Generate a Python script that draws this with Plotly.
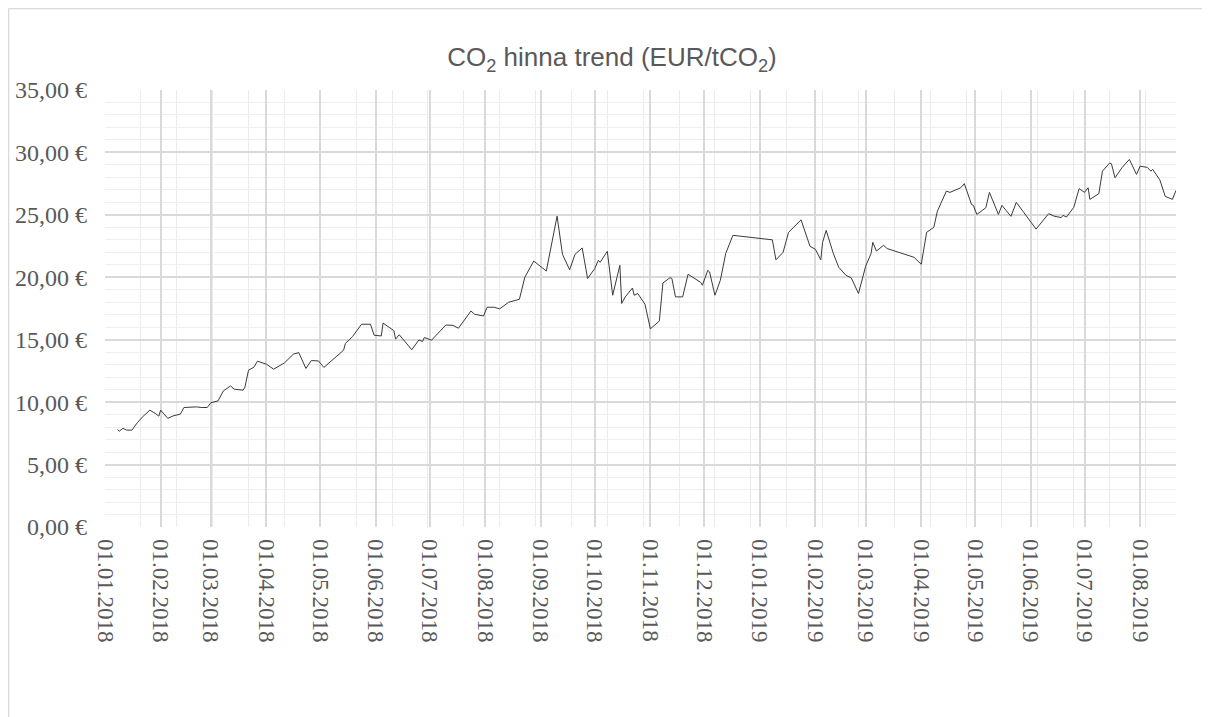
import plotly.graph_objects as go

# CO2 price (EUR/tCO2)
dates = [
    "2018-01-08", "2018-01-09", "2018-01-11", "2018-01-13", "2018-01-16", "2018-01-19",
    "2018-01-22", "2018-01-26", "2018-01-29", "2018-01-31", "2018-02-01", "2018-02-03",
    "2018-02-05", "2018-02-08", "2018-02-12", "2018-02-14", "2018-02-17", "2018-02-21",
    "2018-02-24", "2018-02-27", "2018-03-01", "2018-03-05", "2018-03-08", "2018-03-12",
    "2018-03-14", "2018-03-19", "2018-03-20", "2018-03-22", "2018-03-25", "2018-03-27",
    "2018-04-01", "2018-04-05", "2018-04-11", "2018-04-16", "2018-04-19", "2018-04-23",
    "2018-04-26", "2018-04-30", "2018-05-03", "2018-05-10", "2018-05-14", "2018-05-15",
    "2018-05-19", "2018-05-24", "2018-05-29", "2018-05-31", "2018-06-04", "2018-06-05",
    "2018-06-11", "2018-06-12", "2018-06-14", "2018-06-21", "2018-06-25", "2018-06-27",
    "2018-06-28", "2018-07-02", "2018-07-10", "2018-07-14", "2018-07-17", "2018-07-24",
    "2018-07-26", "2018-07-31", "2018-08-02", "2018-08-06", "2018-08-09", "2018-08-14",
    "2018-08-20", "2018-08-23", "2018-08-28", "2018-09-04", "2018-09-10", "2018-09-13",
    "2018-09-17", "2018-09-20", "2018-09-24", "2018-09-27", "2018-10-01", "2018-10-03",
    "2018-10-04", "2018-10-08", "2018-10-11", "2018-10-15", "2018-10-16", "2018-10-18",
    "2018-10-22", "2018-10-23", "2018-10-25", "2018-10-29", "2018-11-01", "2018-11-06",
    "2018-11-08", "2018-11-12", "2018-11-13", "2018-11-15", "2018-11-19", "2018-11-22",
    "2018-11-29", "2018-11-30", "2018-12-03", "2018-12-04", "2018-12-07", "2018-12-10",
    "2018-12-13", "2018-12-17", "2019-01-08", "2019-01-10", "2019-01-14", "2019-01-17",
    "2019-01-24", "2019-01-29", "2019-02-01", "2019-02-04", "2019-02-05", "2019-02-07",
    "2019-02-11", "2019-02-14", "2019-02-18", "2019-02-21", "2019-02-25", "2019-03-01",
    "2019-03-04", "2019-03-05", "2019-03-07", "2019-03-11", "2019-03-13", "2019-03-28",
    "2019-04-01", "2019-04-04", "2019-04-08", "2019-04-10", "2019-04-15", "2019-04-17",
    "2019-04-23", "2019-04-25", "2019-04-29", "2019-04-30", "2019-05-02", "2019-05-07",
    "2019-05-09", "2019-05-14", "2019-05-16", "2019-05-21", "2019-05-24", "2019-05-28",
    "2019-06-04", "2019-06-11", "2019-06-14", "2019-06-18", "2019-06-19", "2019-06-21",
    "2019-06-25", "2019-06-28", "2019-07-01", "2019-07-03", "2019-07-04", "2019-07-09",
    "2019-07-11", "2019-07-15", "2019-07-16", "2019-07-18", "2019-07-22", "2019-07-26",
    "2019-07-30", "2019-08-01", "2019-08-05", "2019-08-07", "2019-08-08", "2019-08-12",
    "2019-08-15", "2019-08-19", "2019-08-21",
]
prices = [
    7.80, 7.68, 7.90, 7.76, 7.76, 8.35,
    8.83, 9.36, 9.10, 8.88, 9.36, 9.00,
    8.70, 8.90, 9.04, 9.57, 9.60, 9.62,
    9.57, 9.57, 9.95, 10.10, 10.90, 11.30,
    11.04, 10.96, 11.20, 12.56, 12.80, 13.28,
    13.04, 12.64, 13.14, 13.84, 13.97, 12.70,
    13.33, 13.30, 12.78, 13.62, 14.16, 14.70,
    15.25, 16.24, 16.24, 15.36, 15.30, 16.33,
    15.73, 15.05, 15.40, 14.20, 14.98, 14.85,
    15.18, 14.96, 16.18, 16.15, 15.92, 17.30,
    17.04, 16.90, 17.60, 17.60, 17.47, 18.00,
    18.24, 20.00, 21.30, 20.50, 24.90, 21.84,
    20.60, 21.84, 22.35, 19.90, 20.70, 21.36,
    21.20, 22.08, 18.56, 20.96, 17.90, 18.43,
    19.14, 18.56, 18.70, 17.84, 15.87, 16.50,
    19.54, 19.97, 19.90, 18.43, 18.43, 20.24,
    19.60, 19.36, 20.56, 20.43, 18.56, 19.76,
    21.90, 23.36, 23.00, 21.40, 22.00, 23.60,
    24.60, 22.48, 22.24, 21.40, 22.80, 23.76,
    21.90, 20.80, 20.16, 19.95, 18.70, 20.88,
    21.90, 22.80, 22.10, 22.56, 22.30, 21.60,
    21.04, 23.60, 24.00, 25.30, 26.90, 26.80,
    27.17, 27.50, 25.84, 25.76, 25.04, 25.57,
    26.80, 25.04, 25.76, 24.88, 26.00, 25.22,
    23.86, 25.10, 24.90, 24.78, 24.96, 24.83,
    25.60, 27.10, 26.80, 27.17, 26.24, 26.70,
    28.50, 29.15, 29.10, 27.97, 28.80, 29.44,
    28.24, 28.90, 28.80, 28.50, 28.64, 27.80,
    26.48, 26.24, 26.96,
]

x_range = ["2018-01-01", "2019-08-21"]
y_range = [0, 35]

serif = "Liberation Serif, Times New Roman, serif"
sans = "Liberation Sans, Arial, sans-serif"
tick_grey = "#595959"

fig = go.Figure()
fig.add_trace(go.Scatter(
    x=dates, y=prices,
    mode="lines",
    line=dict(color="#3a3a3a", width=1),
    showlegend=False,
))

# page body has an 8px margin, so the figure is 8px smaller to avoid scrolling
fig.update_layout(
    width=1202, height=709,
    margin=dict(l=97, r=34, t=82, b=190),
    paper_bgcolor="white",
    plot_bgcolor="white",
    separators=", ",
    title=dict(
        text="CO<sub>2</sub> hinna trend (EUR/tCO<sub>2</sub>)",
        font=dict(family=sans, size=26, color="#595959"),
        x=0.5025, xref="container", xanchor="center",
        y=0.9305, yref="container", yanchor="middle",
    ),
    xaxis=dict(
        type="date",
        range=x_range,
        tick0="2018-01-01",
        dtick="M1",
        tickformat="%d.%m.%Y",
        tickangle=90,
        tickfont=dict(family=serif, size=23, color=tick_grey),
        showgrid=True,
        gridcolor="#d9d9d9",
        gridwidth=1.6,
        showline=False,
        zeroline=False,
        ticks="",
        ticklabelstandoff=11,
        automargin=False,
        minor=dict(
            tick0="2018-01-01",
            dtick=20 * 86400000,
            showgrid=True,
            gridcolor="#ebebeb",
            gridwidth=1.4,
        ),
    ),
    yaxis=dict(
        range=y_range,
        dtick=5,
        tickformat=".2f",
        ticksuffix=" €",
        tickfont=dict(family=serif, size=24, color=tick_grey),
        showgrid=True,
        gridcolor="#d9d9d9",
        gridwidth=1.6,
        zeroline=False,
        showline=False,
        ticks="",
        ticklabelstandoff=17,
        automargin=False,
        minor=dict(
            dtick=1,
            showgrid=True,
            gridcolor="#eeeeee",
            gridwidth=1.3,
        ),
    ),
)

# outer chart frame (top and left edge visible in the crop)
fig.add_shape(type="line", xref="paper", yref="paper",
              x0=-0.0901, x1=1.1, y0=1.1865, y1=1.1865,
              line=dict(color="#d9d9d9", width=1.5))
fig.add_shape(type="line", xref="paper", yref="paper",
              x0=-0.0901, x1=-0.0901, y0=1.1865, y1=-0.5,
              line=dict(color="#d9d9d9", width=1.5))

fig.write_html("out.html")
